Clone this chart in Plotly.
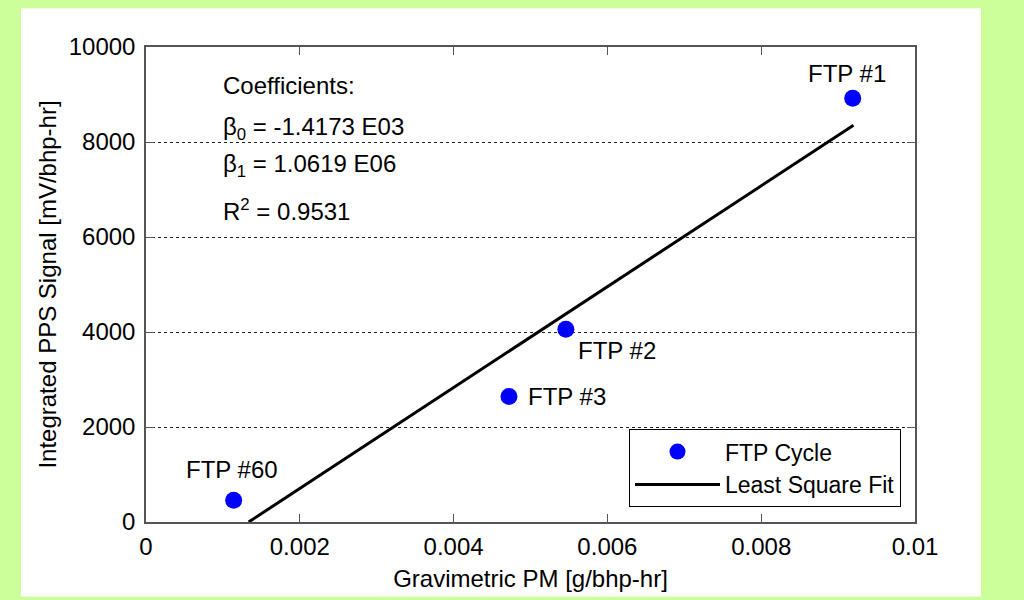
import plotly.graph_objects as go

# Data
pm = [0.00919, 0.00546, 0.00472, 0.00114]
pps = [8920, 4060, 2640, 460]
labels = ["FTP #1", "FTP #2", "FTP #3", "FTP #60"]
fit_x = [0.001335, 0.0092]
fit_y = [0, 8352]
x_ticks = [0, 0.002, 0.004, 0.006, 0.008, 0.01]
x_tick_text = ["0", "0.002", "0.004", "0.006", "0.008", "0.01"]
y_ticks = [0, 2000, 4000, 6000, 8000, 10000]
y_tick_text = ["0", "2000", "4000", "6000", "8000", "10000"]
coef_lines = ["Coefficients:", "β<sub>0</sub> = -1.4173 E03", "β<sub>1</sub> = 1.0619 E06", "R<sup>2</sup> = 0.9531"]

FONT = "Liberation Sans, Arial, sans-serif"
FS = 24

L, R, T, B = 146, 109, 47, 75
W, H = 1024, 600
pw, ph = W - L - R, H - T - B

def px(xp):
    return (xp - L) / pw

def py(yp):
    return (H - B - yp) / ph

fig = go.Figure()
fig.add_trace(go.Scatter(x=pm, y=pps, mode="markers", name="FTP Cycle",
                         marker=dict(color="#0000ff", size=17)))
fig.add_trace(go.Scatter(x=fit_x, y=fit_y, mode="lines", name="Least Square Fit",
                         line=dict(color="black", width=3)))

# point labels
label_pos = [
    dict(x=pm[0], y=pps[0], xshift=-6, yshift=25, xanchor="center"),
    dict(x=pm[1], y=pps[1], xshift=10, yshift=-21, xanchor="left"),
    dict(x=pm[2], y=pps[2], xshift=17, yshift=0, xanchor="left"),
    dict(x=pm[3], y=pps[3], xshift=-2, yshift=31, xanchor="center"),
]
for lab, p in zip(labels, label_pos):
    fig.add_annotation(text=lab, showarrow=False, yanchor="middle",
                       font=dict(family=FONT, size=FS, color="black"), **p)

coef_y = [86, 129, 166, 211]
for txt, yy in zip(coef_lines, coef_y):
    fig.add_annotation(text=txt, showarrow=False, xref="paper", yref="paper",
                       x=px(221), y=py(yy), xanchor="left", yanchor="middle",
                       font=dict(family=FONT, size=FS, color="black"))

# white panel on green background
fig.add_shape(type="rect", xref="paper", yref="paper", layer="below",
              x0=px(21), x1=px(981), y0=py(600), y1=py(8),
              fillcolor="white", line=dict(width=0))

axis_common = dict(showline=True, linecolor="#555555", linewidth=1.5, mirror="ticks",
                   ticks="inside", ticklen=8, tickcolor="#555555", tickwidth=1,
                   zeroline=False, tickfont=dict(family=FONT, size=FS, color="black"))

fig.update_xaxes(range=[0, 0.01], tickvals=x_ticks, ticktext=x_tick_text, showgrid=False,
                 ticklabelstandoff=2,
                 title=dict(text="Gravimetric PM [g/bhp-hr]", standoff=12,
                            font=dict(family=FONT, size=FS, color="black")),
                 **axis_common)
fig.update_yaxes(range=[0, 10000], tickvals=y_ticks, ticktext=y_tick_text, showgrid=True,
                 gridcolor="#222222", gridwidth=1, griddash="3px,3px",
                 ticklabelstandoff=4,
                 title=dict(text="Integrated PPS Signal [mV/bhp-hr]", standoff=5,
                            font=dict(family=FONT, size=FS, color="black")),
                 **axis_common)

fig.update_layout(
    width=W, height=H,
    margin=dict(l=L, r=R, t=T, b=B),
    paper_bgcolor="#ccff99", plot_bgcolor="white",
    font=dict(family=FONT, size=FS, color="black"),
    showlegend=True,
    legend=dict(x=px(901), y=py(510), xanchor="right", yanchor="bottom",
                bordercolor="black", borderwidth=1, bgcolor="white",
                font=dict(family=FONT, size=23, color="black"),
                itemwidth=85, tracegroupgap=0),
)

fig.write_html("out.html", config={"displayModeBar": False},
               post_script="document.body.style.margin='0';document.body.style.padding='0';")
